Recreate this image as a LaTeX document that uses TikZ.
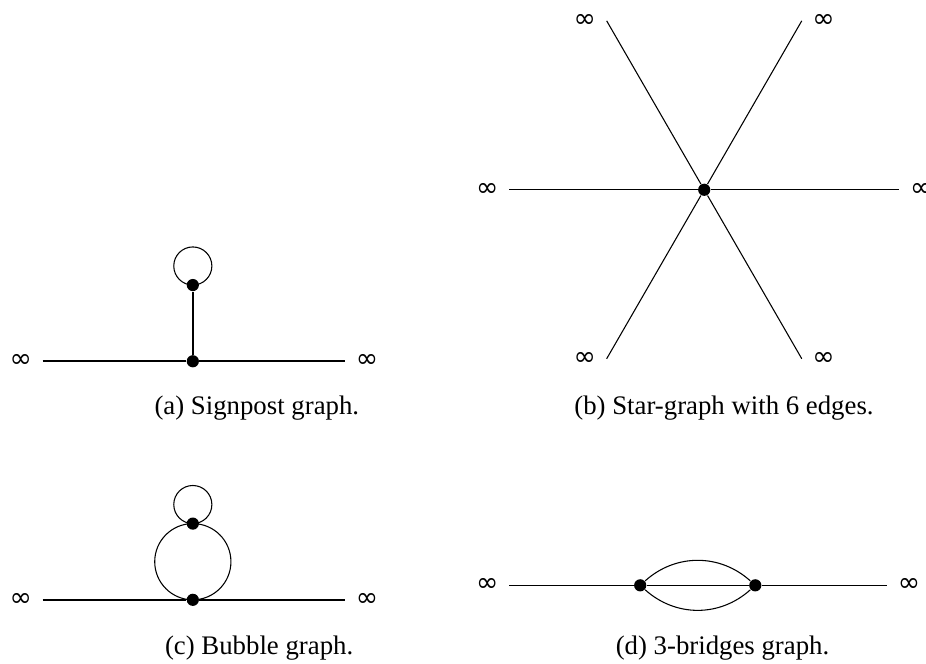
\documentclass[tikz,border=0pt]{standalone}
\usepackage{fontspec}
\setmainfont{Liberation Serif}
\newfontfamily\infsym{DejaVu Sans}
\usetikzlibrary{positioning}

\tikzset{
    vertex/.style={circle, fill=black, inner sep=0pt, minimum size=0.16cm},
    inf/.style={inner sep=3.8pt, font=\infsym},
    edge/.style={semithick},
    loopedge/.style={thin},
    caption/.style={font=\normalsize}
}

\begin{document}
\begin{tikzpicture}[line join=round]

% ---------------------------------------------------------
% Fixed page size (926 x 664 px)
% ---------------------------------------------------------
\useasboundingbox (0,0) rectangle (12.15,-8.71);

% ---------------------------------------------------------
% (a) Signpost graph
% ---------------------------------------------------------
\coordinate (aL) at (0.56,-4.74);
\coordinate (aR) at (4.53,-4.74);
\node[vertex] (a1) at (2.53,-4.74) {};
\node[vertex] (a2) at (2.53,-3.74) {};

\draw[edge] (aL) -- (a1) -- (aR);
\draw[edge] (a1) -- (a2);
\draw[loopedge] (a2.center) arc[start angle=-90, end angle=270, radius=0.25];

\node[inf, left]  (aLinf) at (aL) {∞};
\node[inf, right] (aRinf) at (aR) {∞};

\node[caption] (capA) at (3.37,-5.35) {(a) Signpost graph.};

% ---------------------------------------------------------
% (b) Star-graph, 6 edges
% ---------------------------------------------------------
\node[vertex] (bc) at (9.24,-2.49) {};

\foreach \ang/\side in {0/right, 60/right, 120/left, 180/left, 240/left, 300/right} {
    \coordinate (bend\ang) at ([shift={(\ang:2.56)}]bc.center);
    \draw[thin] (bc) -- (bend\ang);
    \node[inf, \side] (binf\ang) at (bend\ang) {∞};
}

\node[caption] (capB) at (9.50,-5.35) {(b) Star-graph with 6 edges.};

% ---------------------------------------------------------
% (c) Bubble graph
% ---------------------------------------------------------
\coordinate (cL) at (0.56,-7.87);
\coordinate (cR) at (4.53,-7.87);
\node[vertex] (c1) at (2.53,-7.87) {};
\node[vertex] (c2) at (2.53,-6.87) {};

\draw[edge] (cL) -- (c1) -- (cR);
\draw[loopedge] (c1.center) arc[start angle=-90, end angle=270, radius=0.5];
\draw[loopedge] (c2.center) arc[start angle=-90, end angle=270, radius=0.25];

\node[inf, left]  (cLinf) at (cL) {∞};
\node[inf, right] (cRinf) at (cR) {∞};

\node[caption] (capC) at (3.40,-8.50) {(c) Bubble graph.};

% ---------------------------------------------------------
% (d) 3-bridges graph
% ---------------------------------------------------------
\coordinate (dL) at (6.68,-7.68);
\coordinate (dR) at (11.64,-7.68);
\node[vertex] (d1) at (8.40,-7.68) {};
\node[vertex] (d2) at (9.91,-7.68) {};

\draw[edge] (dL) -- (d1) -- (d2) -- (dR);
\draw[loopedge] (d1) to[bend left=42] (d2);
\draw[loopedge] (d1) to[bend right=42] (d2);

\node[inf, left]  (dLinf) at (dL) {∞};
\node[inf, right] (dRinf) at (dR) {∞};

\node[caption] (capD) at (9.48,-8.50) {(d) 3-bridges graph.};

\end{tikzpicture}
\end{document}
